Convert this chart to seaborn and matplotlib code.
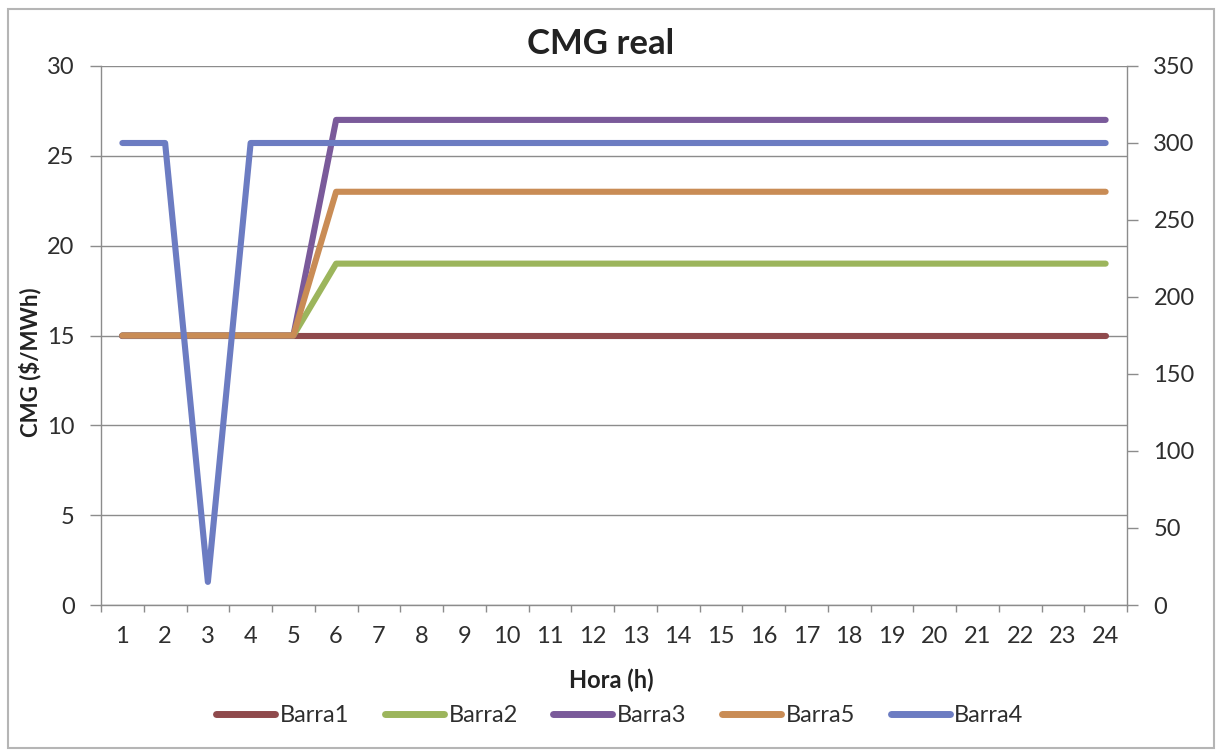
import numpy as np
import pandas as pd
import matplotlib
matplotlib.use("Agg")
import matplotlib.pyplot as plt
import seaborn as sns
from matplotlib.lines import Line2D
from matplotlib.patches import Rectangle

# ---------------- data ----------------
hours = [1, 2, 3, 4, 5, 6, 7, 8, 9, 10, 11, 12, 13, 14, 15, 16, 17, 18, 19, 20, 21, 22, 23, 24]
barra1 = [15, 15, 15, 15, 15, 15, 15, 15, 15, 15, 15, 15, 15, 15, 15, 15, 15, 15, 15, 15, 15, 15, 15, 15]
barra2 = [15, 15, 15, 15, 15, 19, 19, 19, 19, 19, 19, 19, 19, 19, 19, 19, 19, 19, 19, 19, 19, 19, 19, 19]
barra3 = [15, 15, 15, 15, 15, 27, 27, 27, 27, 27, 27, 27, 27, 27, 27, 27, 27, 27, 27, 27, 27, 27, 27, 27]
barra5 = [15, 15, 15, 15, 15, 23, 23, 23, 23, 23, 23, 23, 23, 23, 23, 23, 23, 23, 23, 23, 23, 23, 23, 23]
# Barra4 on secondary (right) axis
barra4 = [300, 300, 15, 300, 300, 300, 300, 300, 300, 300, 300, 300, 300, 300, 300, 300, 300, 300, 300, 300, 300, 300, 300, 300]

left_ticks = [0, 5, 10, 15, 20, 25, 30]
right_ticks = [0, 50, 100, 150, 200, 250, 300, 350]

colors = {
    "Barra1": "#8F4A4C",
    "Barra2": "#9CB55C",
    "Barra3": "#7A5A9A",
    "Barra5": "#C98C55",
    "Barra4": "#6C7CC2",
}

# ---------------- style ----------------
sns.set_theme(style="white")
plt.rcParams["font.family"] = ["Lato", "DejaVu Sans"]

GRAY = "#8c8c8c"
TXT = "#2e2e2e"

W, H = 1221, 753
fig = plt.figure(figsize=(W / 100, H / 100), dpi=100)
fig.patch.set_facecolor("white")

L, R, T, B = 101, 1127, 66, 605
ax = fig.add_axes([L / W, 1 - B / H, (R - L) / W, (B - T) / H])

line_kw = dict(lw=4.4, solid_capstyle="round", solid_joinstyle="round")

for name, vals in [("Barra1", barra1), ("Barra2", barra2), ("Barra3", barra3), ("Barra5", barra5)]:
    sns.lineplot(x=hours, y=vals, color=colors[name], ax=ax, **line_kw)

ax.set_xlim(0.5, 24.5)
ax.set_ylim(0, 30)
ax.set_yticks(left_ticks)
ax.yaxis.grid(True, color=GRAY, lw=1)
ax.xaxis.grid(False)
ax.set_axisbelow(True)

ax.set_xticks(hours)
ax.set_xticklabels([str(h) for h in hours])
ax.set_xticks(np.arange(0.5, 25, 1), minor=True)
ax.tick_params(axis="x", which="major", length=0, pad=15, labelsize=17, labelcolor=TXT, bottom=True)
ax.tick_params(axis="x", which="minor", length=5, width=1, color=GRAY, direction="out", bottom=True)
ax.tick_params(axis="y", length=8, width=1, color=GRAY, direction="out", pad=11,
               labelsize=17, labelcolor=TXT, left=True)

for s in ["top", "right"]:
    ax.spines[s].set_visible(False)
for s in ["left", "bottom"]:
    ax.spines[s].set_color(GRAY)
    ax.spines[s].set_linewidth(1)
ax.set_xlabel("")
ax.set_ylabel("")

# secondary axis
ax2 = ax.twinx()
sns.lineplot(x=hours, y=barra4, color=colors["Barra4"], ax=ax2, **line_kw)
ax2.set_ylim(0, 350)
ax2.set_yticks(right_ticks)
ax2.tick_params(axis="y", length=8, width=1, color=GRAY, direction="out", pad=11,
                labelsize=17, labelcolor=TXT, right=True)
for s in ["top", "left", "bottom"]:
    ax2.spines[s].set_visible(False)
ax2.spines["right"].set_color(GRAY)
ax2.spines["right"].set_linewidth(1)
ax2.set_ylabel("")
ax2.set_xlabel("")
ax2.grid(False)

# texts
fig.text(601 / W, 1 - 44 / H, "CMG real", ha="center", va="center",
         fontsize=25, fontweight="bold", color="#222222")
fig.text(611 / W, 1 - 680 / H, "Hora (h)", ha="center", va="center",
         fontsize=17, fontweight="bold", color="#222222")
fig.text(30 / W, 1 - 362 / H, "CMG ($/MWh)", ha="center", va="center", rotation=90,
         fontsize=16, fontweight="bold", color="#222222")

# legend
order = ["Barra1", "Barra2", "Barra3", "Barra5", "Barra4"]
handles = [Line2D([0], [0], color=colors[n], lw=5, solid_capstyle="round") for n in order]
fig.legend(handles, order, loc="center", bbox_to_anchor=(620 / W, 1 - 716 / H), ncol=5,
           frameon=False, fontsize=17, handlelength=2.5, handletextpad=0.2,
           columnspacing=1.5, labelcolor=TXT)

# chart border
fig.add_artist(Rectangle((8 / W, 1 - 748 / H), (1214 - 8) / W, (748 - 9) / H,
                         transform=fig.transFigure, fill=False, edgecolor="#b5b5b5", lw=1.5))

fig.savefig("out.png", dpi=100)
